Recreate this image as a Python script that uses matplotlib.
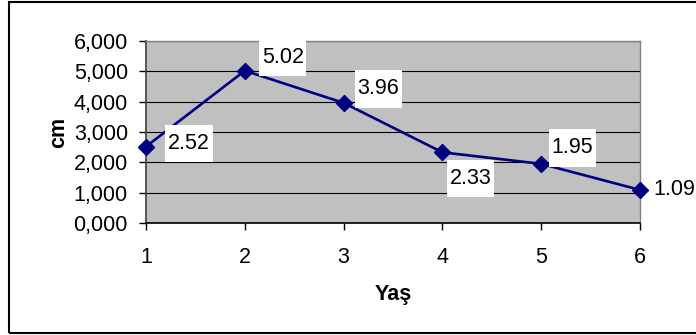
import matplotlib.pyplot as plt
from matplotlib.patches import Rectangle
from matplotlib.path import Path
from matplotlib.ticker import FuncFormatter

plt.rcParams['font.family'] = ['Liberation Sans', 'DejaVu Sans']

# age (years) vs. length (cm)
ages = [1, 2, 3, 4, 5, 6]
lengths = [2.52, 5.02, 3.96, 2.33, 1.95, 1.09]
labels = ['2.52', '5.02', '3.96', '2.33', '1.95', '1.09']
# label offsets from each point, in pixels
label_offsets = [(43, 3), (38, 13), (35, 14), (28, -26), (31, 16), (34, 0)]


def label_box(x0, y0, width, height, mutation_size):
    # white box, narrow at the sides and tall above/below the text
    px = 0.12 * mutation_size
    py = 0.38 * mutation_size
    x0, y0 = x0 - px, y0 - py
    x1, y1 = x0 + width + 2 * px, y0 + height + 2 * py
    return Path([(x0, y0), (x1, y0), (x1, y1), (x0, y1), (x0, y0)], closed=True)


fig = plt.figure(figsize=(6.96, 3.35), dpi=100)
ax = fig.add_axes([146 / 696, 1 - 223 / 335, (640 - 146) / 696, (223 - 41) / 335])

# outer chart frame
fig.patches.append(Rectangle((9 / 696, 2 / 335), 1.0, 331 / 335,
                             transform=fig.transFigure, fill=False,
                             edgecolor='black', linewidth=1.5, clip_on=False))

ax.set_facecolor('#C0C0C0')
ax.set_xlim(1, 6)
ax.set_ylim(0, 6)
ax.set_yticks(range(0, 7))
ax.set_xticks(ages)
ax.yaxis.set_major_formatter(FuncFormatter(lambda v, p: f"{v:.3f}".replace('.', ',')))
ax.grid(axis='y', color='black', linewidth=0.8)
ax.set_axisbelow(True)

for side in ['top', 'right']:
    ax.spines[side].set_color('#808080')
    ax.spines[side].set_linewidth(1.0)
ax.spines['left'].set_color('#404040')
ax.spines['left'].set_linewidth(1.2)
ax.spines['bottom'].set_color('black')
ax.spines['bottom'].set_linewidth(1.2)

fs = 15.5
ax.tick_params(axis='y', length=5, width=1, pad=8, labelsize=fs)
ax.tick_params(axis='x', length=5, width=1, pad=12, labelsize=fs)

ax.plot(ages, lengths, color='#000080', linewidth=1.9, marker='D',
        markersize=8.5, markerfacecolor='#000080', markeredgecolor='#000080',
        clip_on=False, zorder=3)

for x, y, txt, (dx, dy) in zip(ages, lengths, labels, label_offsets):
    ax.annotate(txt, (x, y), xytext=(dx, dy), textcoords='offset pixels',
                ha='center', va='center', fontsize=fs, annotation_clip=False,
                bbox=dict(boxstyle=label_box, facecolor='white', edgecolor='none'),
                zorder=4)

ax.set_xlabel('Yaş', fontsize=fs, fontweight='bold', labelpad=12)
ax.set_ylabel('cm', fontsize=fs, fontweight='bold', labelpad=3)

fig.savefig('out.png', dpi=100)
